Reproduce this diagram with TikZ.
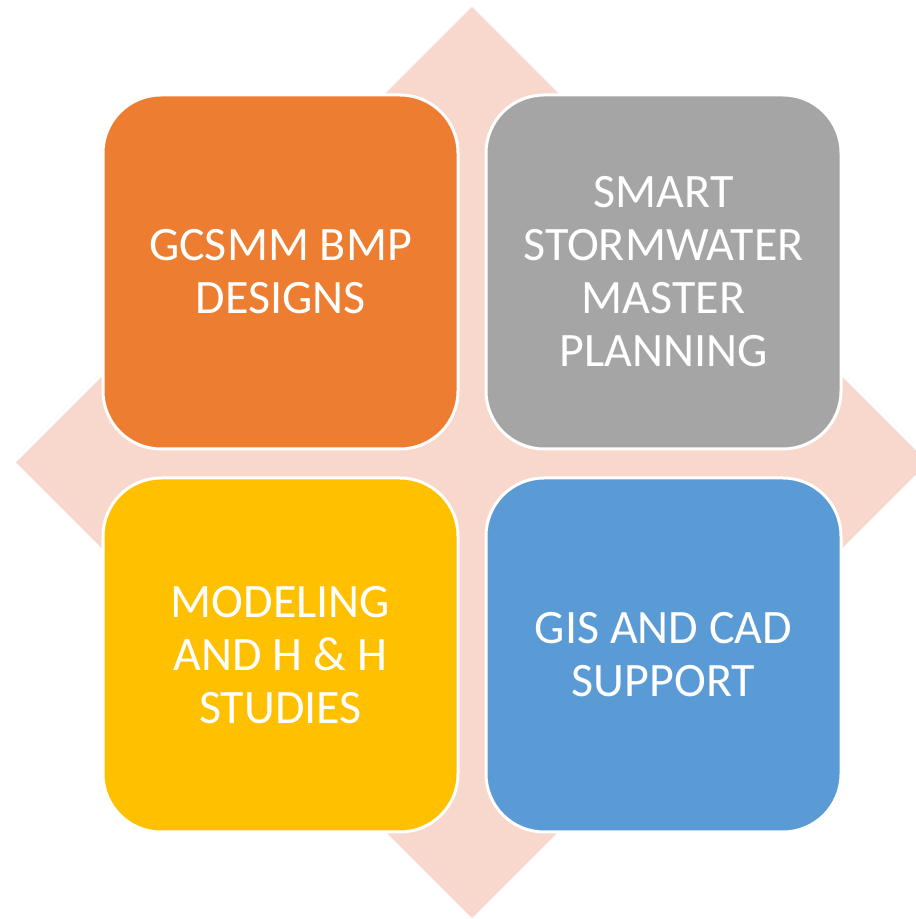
\documentclass[tikz,border=0pt]{standalone}
\usepackage{fontspec}
\setmainfont{Carlito}
\definecolor{diam}{HTML}{F8D7CD}
\definecolor{corange}{HTML}{ED7D31}
\definecolor{cgray}{HTML}{A5A5A5}
\definecolor{cyellow}{HTML}{FFC000}
\definecolor{cblue}{HTML}{5B9BD5}
\begin{document}
\begin{tikzpicture}[x=1pt,y=1pt,
  tile/.style={draw=white, line width=3pt, rounded corners=58pt,
    minimum width=355pt, minimum height=354pt, inner sep=0pt,
    text=white, align=center, font=\fontsize{48}{53}\selectfont}]
\useasboundingbox (0,0) rectangle (916,919);
\clip (0,0) rectangle (916,919);
\fill[diam] (472,912) -- (928,456.5) -- (472,1) -- (16,456.5) -- cycle;
\node[tile, fill=corange] (a) at (280.5,647) {GCSMM BMP\\DESIGNS};
\node[tile, fill=cgray] (b) at (663.5,647) {SMART\\STORMWATER\\MASTER\\PLANNING};
\node[tile, fill=cyellow] (c) at (280.5,264) {MODELING\\AND H \& H\\STUDIES};
\node[tile, fill=cblue] (d) at (663.5,264) {GIS AND CAD\\SUPPORT};
\end{tikzpicture}
\end{document}
